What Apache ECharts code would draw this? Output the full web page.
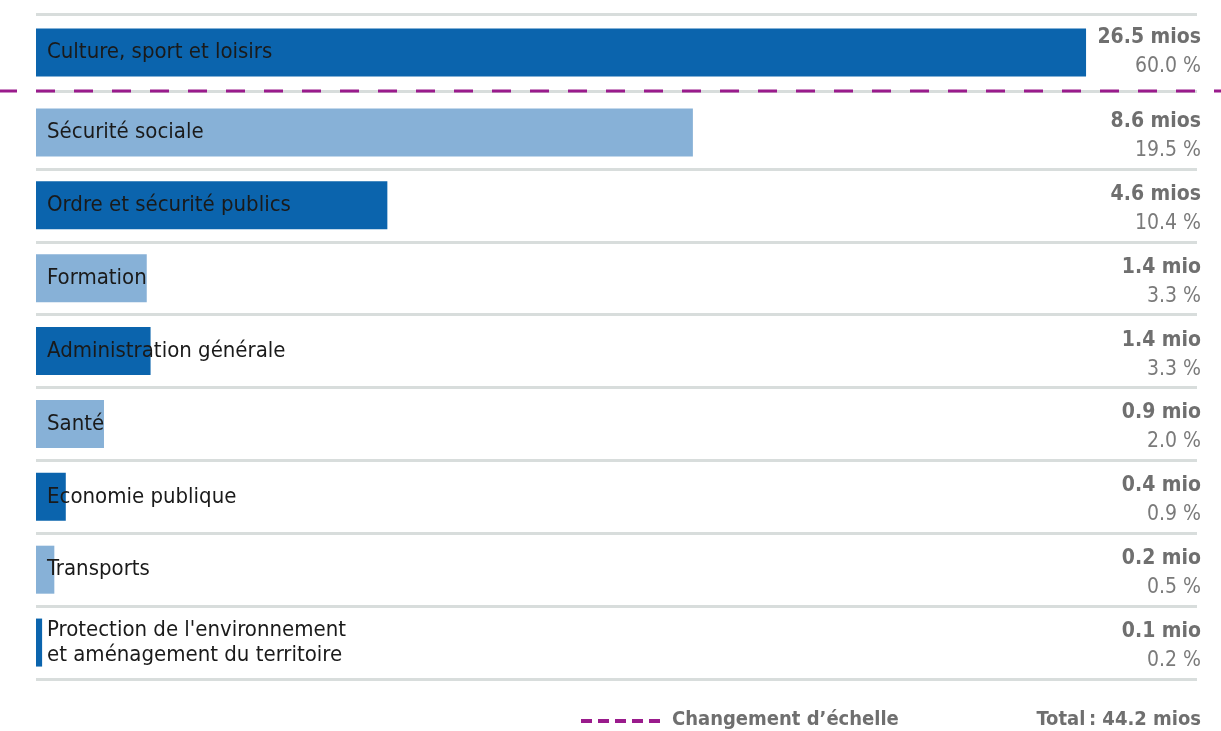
<!DOCTYPE html>
<html>
<head>
<meta charset="utf-8">
<script src="https://cdn.jsdelivr.net/npm/echarts@6/dist/echarts.min.js"></script>
<style>
    html, body { margin: 0; padding: 0; background: #fff; }
    #chart { width: 1221px; height: 731px; }
</style>
</head>
<body>
<div id="chart"></div>
<script>
    // domaines, du plus grand au plus petit
    const categories = [
        'Culture, sport et loisirs',
        'Sécurité sociale',
        'Ordre et sécurité publics',
        'Formation',
        'Administration générale',
        'Santé',
        'Economie publique',
        'Transports',
        "Protection de l'environnement\net aménagement du territoire"
    ];
    // montants en millions (longueur des barres)
    const amounts = [26.5, 8.6, 4.6, 1.45, 1.5, 0.89, 0.39, 0.24, 0.08];
    const amountLabels = ['26.5 mios', '8.6 mios', '4.6 mios', '1.4 mio', '1.4 mio', '0.9 mio', '0.4 mio', '0.2 mio', '0.1 mio'];
    const shareLabels = ['60.0 %', '19.5 %', '10.4 %', '3.3 %', '3.3 %', '2.0 %', '0.9 %', '0.5 %', '0.2 %'];
    const totalLabel = 'Total\u202F: 44.2 mios';
    const legendLabel = 'Changement d’échelle';

    const FONT = '"Liberation Sans Narrow", "Arial Narrow", "DejaVu Sans Condensed", sans-serif';
    const DARK = '#0b64ad';
    const LIGHT = '#87b1d7';
    const GRIDLINE = '#d8dddc';

    const chart = echarts.init(document.getElementById('chart'));

    function yAxisFor(gridIndex, offset, count, skipTop) {
        return {
            type: 'category',
            gridIndex: gridIndex,
            inverse: true,
            position: 'right',
            data: categories.slice(offset, offset + count),
            axisLine: { show: false },
            axisTick: { show: false },
            splitLine: {
                show: true,
                // la ligne du haut du 2e bloc est déjà tracée par le 1er
                interval: skipTop ? function (index) { return index !== 0; } : 0,
                lineStyle: { color: GRIDLINE, width: 3 }
            },
            axisLabel: {
                margin: 4,
                align: 'right',
                padding: skipTop ? [7, 0, 0, 0] : 0,
                formatter: function (value, index) {
                    return '{a|' + amountLabels[offset + index] + '}\n{b|' + shareLabels[offset + index] + '}';
                },
                rich: {
                    a: { fontFamily: FONT, fontSize: 21, fontWeight: 'bold', color: '#6f6f6f', lineHeight: 29, align: 'right' },
                    b: { fontFamily: FONT, fontSize: 21, color: '#7a7a7a', lineHeight: 29, align: 'right' }
                }
            }
        };
    }

    function barSeries(axisIndex, offset, count) {
        return {
            type: 'bar',
            xAxisIndex: axisIndex,
            yAxisIndex: axisIndex,
            barWidth: 48,
            data: amounts.slice(offset, offset + count).map(function (v, i) {
                return { value: v, itemStyle: { color: (offset + i) % 2 === 0 ? DARK : LIGHT } };
            }),
            label: {
                show: true,
                position: 'insideLeft',
                distance: 11,
                formatter: '{b}',
                fontFamily: FONT,
                fontSize: 22,
                lineHeight: 25,
                color: '#1a1a1a'
            },
            silent: true
        };
    }

    chart.setOption({
        animation: false,
        grid: [
            { left: 36, right: 24, top: 14, height: 77 },
            { left: 36, right: 24, top: 96, height: 583 }
        ],
        xAxis: [
            { type: 'value', gridIndex: 0, min: 0, max: 29.3, show: false },
            { type: 'value', gridIndex: 1, min: 0, max: 15.2, show: false }
        ],
        yAxis: [
            yAxisFor(0, 0, 1, false),
            yAxisFor(1, 1, 8, true)
        ],
        series: [
            barSeries(0, 0, 1),
            barSeries(1, 1, 8)
        ],
        graphic: [
            {
                type: 'line', z: 100,
                shape: { x1: -2, y1: 91, x2: 1221, y2: 91 },
                style: { stroke: '#9a1b8c', lineWidth: 3, lineDash: [19, 19] }
            },
            {
                type: 'line', z: 100,
                shape: { x1: 581, y1: 721, x2: 660, y2: 721 },
                style: { stroke: '#9a1b8c', lineWidth: 4, lineDash: [11, 6] }
            },
            {
                type: 'text', z: 100, left: 672, top: 710,
                style: { text: legendLabel, fontFamily: FONT, fontSize: 20, fontWeight: 'bold', fill: '#6f6f6f' }
            },
            {
                type: 'text', z: 100, right: 20, top: 710,
                style: { text: totalLabel, fontFamily: FONT, fontSize: 20, fontWeight: 'bold', fill: '#6f6f6f', textAlign: 'right' }
            }
        ]
    });
</script>
</body>
</html>
